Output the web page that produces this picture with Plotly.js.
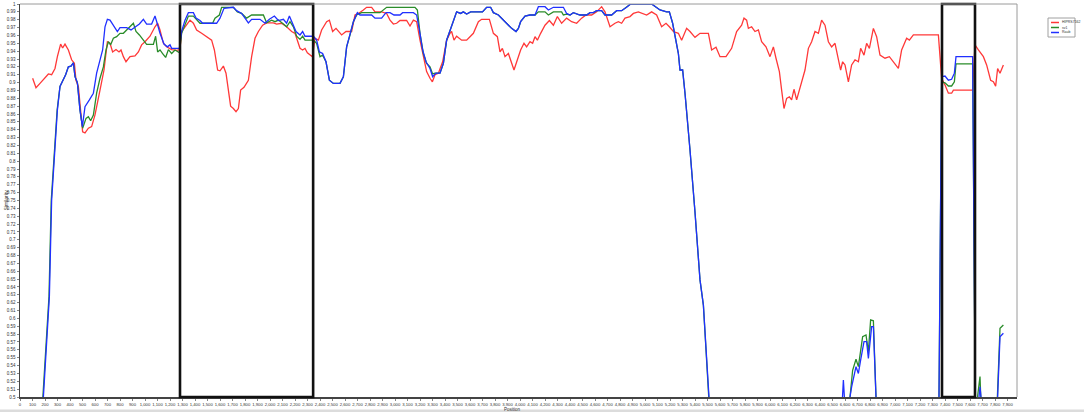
<!DOCTYPE html>
<html>
<head>
<meta charset="utf-8">
<script src="https://cdn.plot.ly/plotly-3.0.1.min.js"></script>
<style>html,body{margin:0;padding:0;background:#fff;}#chart{width:1084px;height:413px;}</style>
</head>
<body>
<div id="chart"></div>
<script>
// ---- Data ----
const seriesNames = ["HIPRS7162", "sv1", "Raub"];

const redPos = [
  101,128,160,200,227,253,280,299,325,341,
  360,387,413,435,448,467,485,501,520,547,
  573,600,640,672,699,720,741,768,792,808,
  827,848,880,920,947,973,1000,1040,1080,1101,
  1120,1147,1173,1213,1253,1280,1293,1320,1360,1387,
  1413,1453,1493,1533,1555,1581,1600,1627,1648,1667,
  1685,1707,1728,1747,1765,1792,1827,1853,1880,1907,
  1941,1973,2027,2053,2093,2133,2173,2200,2221,2240,
  2261,2280,2299,2320,2339,2360,2387,2413,2453,2475,
  2501,2528,2573,2608,2653,2680,2707,2747,2773,2813,
  2840,2893,2933,2960,2987,3013,3040,3093,3120,3147,
  3173,3200,3227,3253,3280,3299,3320,3347,3381,3413,
  3440,3453,3472,3493,3533,3573,3600,3627,3667,3693,
  3755,3787,3819,3840,3859,3880,3907,3928,3952,3979,
  4005,4032,4053,4080,4101,4120,4139,4165,4200,4235,
  4267,4299,4333,4373,4413,4453,4493,4528,4573,4613,
  4653,4680,4720,4760,4787,4813,4840,4880,4907,4947,
  4987,5013,5053,5093,5133,5168,5195,5227,5267,5293,
  5333,5360,5400,5440,5507,5533,5568,5600,5648,5693,
  5733,5773,5792,5813,5827,5853,5880,5907,5933,5968,
  6000,6027,6048,6075,6093,6112,6133,6155,6173,6192,
  6213,6235,6261,6280,6307,6333,6360,6387,6413,6440,
  6467,6493,6520,6547,6565,6581,6600,6627,6653,6680,
  6707,6725,6752,6773,6795,6827,6853,6880,6920,6955,
  6987,7027,7053,7093,7115,7147,7347,7373,7400,7427,
  7453,7467,7621,7640,7667,7707,7733,7765,7787,7805,
  7821,7840,7867
];
const redSim = [
  .9055,.8935,.899,.9055,.911,.910,.918,.933,.949,.944,
  .949,.9415,.929,.9245,.903,.895,.861,.8375,.836,.842,
  .844,.859,.8905,.916,.952,.950,.939,.942,.939,.9415,
  .933,.9265,.933,.934,.939,.948,.952,.959,.971,.9755,
  .967,.950,.9455,.942,.941,.942,.965,.971,.9795,.9755,
  .967,.9627,.9584,.954,.9415,.916,.915,.921,.912,.8905,
  .870,.867,.863,.867,.8905,.894,.903,.933,.9564,.965,
  .973,.976,.976,.9745,.9755,.971,.965,.9627,.952,.9436,
  .9415,.9436,.938,.935,.933,.9564,.954,.967,.9775,.9795,
  .965,.969,.9606,.965,.965,.986,.988,.9924,.9958,.9958,
  .990,.990,.988,.9795,.9745,.9755,.979,.979,.972,.9795,
  .9775,.954,.931,.914,.9055,.901,.910,.912,.9265,.954,
  .9627,.965,.954,.959,.954,.954,.9584,.9627,.9775,.9805,
  .9805,.9627,.9584,.939,.9436,.933,.937,.9265,.916,.929,
  .9415,.950,.9455,.952,.950,.9584,.954,.9627,.973,.979,
  .973,.984,.9755,.982,.9775,.9755,.982,.986,.986,.990,
  .9966,.990,.971,.9755,.9775,.9755,.982,.984,.988,.990,
  .988,.986,.990,.986,.971,.9755,.971,.965,.9627,.954,
  .969,.965,.9576,.9627,.9627,.9415,.945,.933,.933,.9436,
  .965,.973,.982,.9795,.969,.971,.965,.967,.952,.9455,
  .933,.9455,.931,.914,.8905,.867,.880,.882,.878,.8915,
  .878,.8905,.903,.916,.9436,.952,.965,.9627,.9795,.973,
  .952,.9455,.950,.931,.916,.9265,.9225,.901,.9225,.929,
  .9265,.9436,.935,.950,.9436,.969,.9584,.935,.931,.933,
  .9265,.918,.9415,.9564,.954,.9606,.9606,.9055,.897,.8865,
  .8865,.8905,.8905,.948,.9415,.933,.9225,.903,.901,.8955,
  .918,.912,.9225
];

const greenPos = [
  183,232,250,278,297,320,347,365,387,408,
  427,440,459,480,501,528,547,565,587,613,
  640,667,688,707,725,747,773,800,827,853,
  880,907,928,955,987,1013,1067,1085,1101,1120,
  1141,1165,1187,1213,1240,1275,1293,1328,1347,1387,
  1413,1440,1541,1560,1595,1613,1707,1739,1773,1813,
  1853,1947,1973,2013,2040,2067,2107,2133,2160,2187,
  2213,2240,2261,2280,2347,2373,2400,2421,2448,2475,
  2507,2560,2587,2613,2640,2667,2693,2733,2880,2920,
  2933,3160,3179,3200,3227,3253,3280,3301,3320,3360,
  3387,3413,3453,3493,3525,3547,3573,3605,3700,3733,
  3765,3787,3827,3853,3893,3933,3968,3987,4005,4040,
  4080,4120,4147,4200,4227,4267,4333,4347,4373,4400,
  4427,4480,4533,4560,4587,4613,4653,4680,4733,4773,
  4813,4853,4885,5053,5088,5120,5173,5195,5221,5240,
  5267,5280,5301,5320,5347,5360,5400,5440,5467,5510,
  5520,6640,6661,6688,6707,6741,6768,6787,6805,6827,
  6848,6860,7352,7368,7373,7400,7427,7453,7475,7488,
  7621,7642,7648,7660,7668,7680,7686,7700,7819,7840,
  7867
];
const greenSim = [
  .50,.628,.750,.8228,.865,.895,.903,.910,.920,.921,
  .925,.9075,.900,.865,.842,.8545,.8566,.8515,.8588,.8865,
  .9055,.920,.9415,.952,.948,.9564,.9584,.9627,.9627,.967,
  .971,.9755,.965,.9606,.954,.9487,.9487,.959,.939,.9415,
  .937,.932,.942,.937,.9415,.938,.9627,.9755,.9847,.9847,
  .9795,.9755,.9755,.982,.986,.9958,.9958,.990,.988,.982,
  .986,.986,.976,.9795,.9775,.9795,.9745,.971,.9775,.971,
  .959,.955,.959,.954,.954,.950,.933,.935,.9265,.903,
  .899,.899,.9075,.9455,.9606,.9775,.986,.989,.989,.9945,
  .9958,.9958,.9924,.9627,.937,.9245,.920,.911,.912,.912,
  .9245,.954,.973,.990,.988,.990,.9873,.990,.990,.9958,
  .9958,.989,.986,.982,.9755,.969,.965,.969,.9775,.9847,
  .986,.986,.990,.990,.986,.990,.990,.986,.987,.986,
  .989,.986,.986,.989,.989,.9915,.9915,.986,.986,.9915,
  .9915,.9958,1.0,1.0,.9966,.9924,.990,.990,.9755,.9584,
  .937,.916,.916,.8865,.8397,.8143,.735,.649,.617,.50,
  null,.50,.534,.548,.5386,.5767,.579,.5577,.598,.597,
  .50,null,.50,.885,.901,.8997,.8957,.8957,.901,.9237,
  .9237,.50,null,.50,.512,.526,.50,null,.50,.5874,
  .5916
];

const bluePos = [
  187,235,253,280,299,320,347,365,387,408,
  427,440,459,480,499,520,555,587,613,640,
  661,680,699,720,747,779,800,853,888,920,
  955,987,1013,1053,1080,1099,1120,1152,1179,1200,
  1213,1275,1293,1320,1347,1387,1408,1440,1461,1573,
  1600,1632,1707,1733,1773,1800,1827,1853,1920,1960,
  1995,2035,2067,2107,2133,2155,2181,2208,2240,2261,
  2280,2347,2373,2395,2421,2448,2475,2507,2560,2587,
  2613,2640,2667,2699,2720,2813,2840,2893,2928,2960,
  2992,3040,3061,3147,3173,3195,3221,3248,3280,3301,
  3328,3360,3387,3413,3453,3493,3525,3547,3573,3605,
  3700,3733,3765,3787,3827,3853,3893,3933,3968,3987,
  4005,4040,4080,4120,4147,4200,4227,4267,4347,4373,
  4400,4427,4480,4533,4560,4587,4613,4653,4680,4733,
  4773,4813,4853,4885,5053,5088,5120,5173,5195,5221,
  5240,5267,5280,5301,5320,5347,5360,5400,5440,5467,
  5512,5520,6580,6587,6595,6600,6640,6653,6688,6707,
  6725,6752,6773,6787,6813,6827,6848,6860,7352,7368,
  7373,7400,7427,7453,7475,7488,7621,7642,7650,7672,
  7680,7688,7700,7821,7840,7867
];
const blueSim = [
  .50,.628,.750,.8228,.865,.895,.903,.910,.920,.921,
  .925,.9075,.900,.865,.844,.8693,.878,.8865,.912,.929,
  .9415,.971,.9805,.9795,.973,.965,.970,.970,.967,.971,
  .9745,.9805,.9745,.9745,.9847,.9745,.9627,.949,.9455,.948,
  .9436,.9436,.965,.9795,.989,.989,.982,.979,.9755,.9755,
  .982,.9945,.9958,.9915,.988,.982,.976,.9805,.9805,.9755,
  .9805,.9847,.979,.9805,.9755,.9847,.9755,.965,.9606,.965,
  .959,.959,.954,.939,.937,.9265,.903,.899,.899,.9075,
  .9455,.9606,.9775,.989,.986,.986,.982,.982,.989,.989,
  .986,.986,.989,.989,.986,.967,.9415,.9265,.918,.9075,
  .912,.912,.9245,.954,.973,.990,.988,.990,.9873,.990,
  .990,.9958,.9958,.989,.986,.982,.9755,.969,.965,.969,
  .9775,.9847,.986,.986,.9966,.9966,.9924,.9958,.9958,.988,
  .986,.989,.986,.986,.989,.989,.9915,.9915,.986,.986,
  .9915,.9915,.9958,1.0,1.0,.9966,.9924,.990,.990,.9755,
  .9584,.937,.916,.916,.8865,.8397,.8143,.735,.649,.617,
  .50,null,.50,.5216,.50,null,.50,.513,.5386,.530,
  .547,.5705,.5705,.549,.5895,.5895,.50,null,.50,.89,
  .9075,.9084,.903,.9042,.912,.933,.933,.50,null,.50,
  .513,.50,null,.50,.5767,.581
];

// highlighted regions (position ranges)
const boxRanges = [[1280, 2345], [7376, 7640]];

// ---- Layout helpers ----
const W = 1084, H = 413;
const L = 20, R = 1017, T = 4, B = 397;
const px = x => (x - L) / (R - L);
const py = y => (B - y) / (B - T);

const colors = ["#ff3838", "#2a8c2a", "#2030ff"];
const FONT = "Liberation Sans, Arial, sans-serif";

const traces = [
  {x: redPos, y: redSim, name: seriesNames[0]},
  {x: greenPos, y: greenSim, name: seriesNames[1]},
  {x: bluePos, y: blueSim, name: seriesNames[2]}
].map((t, i) => Object.assign(t, {
  type: "scatter", mode: "lines",
  line: {color: colors[i], width: 1.3},
  connectgaps: false, hoverinfo: "skip"
}));

const shapes = [];
boxRanges.forEach(r => shapes.push({
  type: "rect", xref: "x", yref: "paper", x0: r[0], x1: r[1], y0: 0, y1: 1,
  line: {color: "#111", width: 2.6}, fillcolor: "rgba(0,0,0,0)"
}));
// top and right frame (light)
shapes.push({type: "line", xref: "paper", yref: "paper", x0: 0, x1: 1, y0: 1, y1: 1, line: {color: "#9a9a9a", width: 1}});
shapes.push({type: "line", xref: "paper", yref: "paper", x0: 1, x1: 1, y0: 0, y1: 1, line: {color: "#9a9a9a", width: 1}});
// bottom gray strip
shapes.push({type: "rect", xref: "paper", yref: "paper", x0: px(0), x1: px(W), y0: py(412), y1: py(409.5), line: {width: 0}, fillcolor: "#dcdcdc", layer: "below"});
// legend box
shapes.push({type: "rect", xref: "paper", yref: "paper", x0: px(1048), x1: px(1075), y0: py(37), y1: py(18), line: {color: "#a0a0a0", width: 1}, fillcolor: "#fff"});
const legY = [22.5, 27.5, 32.5];
const annotations = [];
seriesNames.forEach((n, i) => {
  shapes.push({type: "line", xref: "paper", yref: "paper", x0: px(1051), x1: px(1059), y0: py(legY[i]), y1: py(legY[i]), line: {color: colors[i], width: 1.5}});
  annotations.push({xref: "paper", yref: "paper", x: px(1060), y: py(legY[i]), xanchor: "left", yanchor: "middle", text: n, showarrow: false, font: {size: 3.5, color: "#333", family: FONT}});
});
annotations.push({xref: "paper", yref: "paper", x: px(512), y: py(409), xanchor: "center", yanchor: "middle", text: "Position", showarrow: false, font: {size: 4.5, color: "#333", family: FONT}});
annotations.push({xref: "paper", yref: "paper", x: px(5.5), y: py(200), xanchor: "center", yanchor: "middle", text: "Similarity", textangle: -90, showarrow: false, font: {size: 5, color: "#333", family: FONT}});

const layout = {
  width: W, height: H,
  margin: {l: L, r: W - R, t: T, b: H - B, pad: 0},
  paper_bgcolor: "#fff", plot_bgcolor: "#fff",
  showlegend: false,
  font: {family: FONT, size: 5, color: "#333"},
  xaxis: {
    range: [0, 7976], dtick: 100, tick0: 0, tickformat: ",d",
    showgrid: false, zeroline: false,
    showline: true, linecolor: "#444", linewidth: 1.5,
    ticks: "outside", ticklen: 2, tickcolor: "#666", tickwidth: 0.8,
    tickfont: {size: 4.2, color: "#333", family: FONT}, tickangle: 0
  },
  yaxis: {
    range: [0.5, 1.0], dtick: 0.01, tick0: 0.5,
    showgrid: false, zeroline: false,
    showline: true, linecolor: "#444", linewidth: 1.5,
    ticks: "outside", ticklen: 2, tickcolor: "#666", tickwidth: 0.8,
    tickfont: {size: 4.5, color: "#333", family: FONT}
  },
  shapes: shapes,
  annotations: annotations
};

Plotly.newPlot("chart", traces, layout, {staticPlot: true, displayModeBar: false});
</script>
</body>
</html>
